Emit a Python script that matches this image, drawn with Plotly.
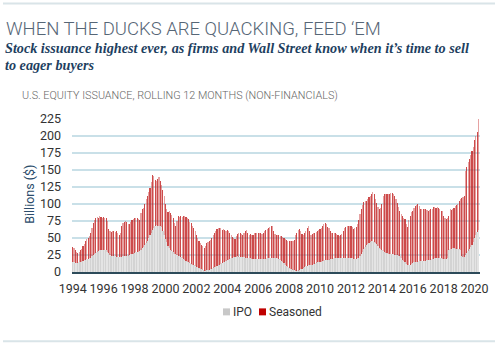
import plotly.graph_objects as go

# ---------------- data (billions $, rolling 12 months, monthly from Jan 1994) ----------------
start_year = 1994
ipo = [
    14, 14, 13, 13, 13, 14, 14, 15, 16, 17, 18, 19,   # 1994
    19, 20, 21, 23, 25, 26, 28, 29, 31, 32, 33, 33,   # 1995
    33, 33, 32, 30, 28, 25, 24, 23, 23, 23, 22, 22,   # 1996
    22, 22, 22, 23, 23, 23, 24, 24, 25, 26, 26, 27,   # 1997
    28, 29, 29, 30, 31, 33, 35, 37, 40, 43, 46, 50,   # 1998
    54, 58, 62, 65, 68, 69, 68, 68, 68, 66, 60, 54,   # 1999
    48, 44, 38, 35, 32, 31, 29, 27, 26, 25, 24, 23,   # 2000
    22, 21, 19, 17, 16, 15, 14, 13, 12, 11, 10, 9,    # 2001
    8, 7, 6, 5, 4, 3, 2, 2, 3, 3, 3, 4,               # 2002
    5, 6, 7, 8, 9, 10, 11, 12, 13, 14, 15, 16,        # 2003
    17, 18, 19, 20, 21, 22, 22, 22, 23, 22, 22, 22,   # 2004
    22, 22, 21, 21, 20, 20, 20, 19, 19, 19, 19, 19,   # 2005
    19, 19, 19, 19, 19, 19, 19, 20, 20, 21, 21, 21,   # 2006
    21, 21, 20, 20, 19, 18, 16, 15, 13, 11, 9, 8,     # 2007
    6, 5, 4, 3, 3, 2, 2, 2, 3, 4, 5, 6,               # 2008
    8, 9, 9, 10, 10, 11, 11, 12, 12, 13, 14, 14,      # 2009
    15, 15, 16, 16, 17, 17, 18, 18, 19, 19, 19, 20,   # 2010
    20, 21, 21, 21, 21, 21, 21, 21, 21, 21, 21, 21,   # 2011
    21, 20, 19, 19, 19, 20, 21, 23, 26, 30, 34, 37,   # 2012
    39, 41, 43, 44, 45, 45, 44, 42, 41, 38, 36, 34,   # 2013
    33, 31, 30, 28, 28, 27, 26, 26, 26, 26, 25, 25,   # 2014
    25, 24, 23, 21, 18, 16, 14, 12, 11, 11, 11, 12,   # 2015
    13, 14, 14, 15, 15, 16, 16, 16, 16, 16, 16, 17,   # 2016
    17, 18, 18, 19, 19, 20, 20, 21, 21, 20, 20, 19,   # 2017
    19, 19, 19, 20, 33, 34, 34, 35, 35, 34, 34, 34,   # 2018
    34, 33, 24, 22, 22, 25, 28, 31, 34, 37, 40, 44,   # 2019
    50, 55, 59, 62,                                   # 2020
]
seasoned = [
    23, 21, 19, 16, 15, 16, 18, 19, 22, 24, 27, 29,   # 1994
    31, 33, 37, 41, 47, 51, 52, 52, 49, 50, 48, 47,   # 1995
    48, 47, 47, 45, 35, 35, 35, 37, 38, 36, 38, 36,   # 1996
    33, 36, 46, 49, 51, 52, 49, 46, 46, 48, 51, 51,   # 1997
    51, 51, 51, 48, 46, 54, 57, 57, 60, 65, 66, 68,   # 1998
    70, 74, 81, 76, 67, 65, 69, 71, 66, 62, 60, 58,   # 1999
    52, 48, 50, 55, 55, 53, 51, 45, 42, 50, 58, 58,   # 2000
    60, 60, 63, 66, 65, 65, 64, 61, 60, 57, 54, 51,   # 2001
    47, 43, 40, 38, 36, 35, 33, 36, 39, 41, 42, 43,   # 2002
    45, 48, 51, 52, 54, 54, 54, 52, 49, 49, 47, 45,   # 2003
    45, 42, 38, 35, 31, 28, 27, 31, 33, 35, 36, 34,   # 2004
    33, 35, 40, 41, 38, 35, 36, 36, 36, 38, 39, 38,   # 2005
    38, 39, 38, 37, 39, 41, 43, 43, 44, 45, 47, 46,   # 2006
    39, 35, 35, 34, 35, 35, 37, 37, 37, 38, 38, 38,   # 2007
    40, 40, 42, 43, 44, 53, 56, 60, 60, 56, 51, 49,   # 2008
    49, 51, 55, 58, 50, 44, 45, 45, 46, 46, 46, 48,   # 2009
    48, 50, 52, 54, 55, 53, 48, 46, 41, 39, 39, 38,   # 2010
    38, 35, 33, 32, 34, 35, 39, 43, 45, 47, 47, 46,   # 2011
    47, 46, 44, 45, 47, 50, 55, 62, 66, 68, 69, 67,   # 2012
    66, 66, 67, 68, 69, 72, 71, 66, 61, 57, 56, 60,   # 2013
    67, 81, 84, 87, 86, 87, 89, 90, 90, 88, 87, 83,   # 2014
    76, 72, 67, 64, 64, 64, 64, 58, 55, 65, 71, 76,   # 2015
    77, 80, 83, 84, 85, 81, 77, 76, 76, 77, 76, 74,   # 2016
    73, 73, 74, 74, 76, 75, 74, 74, 73, 72, 70, 70,   # 2017
    63, 61, 59, 60, 49, 58, 57, 57, 59, 63, 65, 66,   # 2018
    71, 75, 85, 88, 90, 123, 127, 131, 132, 135, 138, 140,  # 2019
    144, 145, 147, 163,                               # 2020
]
series_names = ["IPO", "Seasoned"]
x_tick_vals = [1994, 1996, 1998, 2000, 2002, 2004, 2006, 2008, 2010, 2012, 2014, 2016, 2018, 2020]
x_tick_text = ["1994", "1996", "1998", "2000", "2002", "2004", "2006", "2008",
               "2010", "2012", "2014", "2016", "2018", "2020"]
y_tick_vals = [0, 25, 50, 75, 100, 125, 150, 175, 200, 225]

months = [start_year + i / 12 for i in range(len(ipo))]

# ---------------- geometry helpers ----------------
W, H = 500, 346
L, R, T, B = 72, 20, 119, 73.5
PW, PH = W - L - R, H - T - B


def px(xp):
    return (xp - L) / PW


def py(yp):
    return (H - B - yp) / PH


FONT = "Roboto"
RED = "#c00000"
GREY = "#c8c8c8"
# alternating shades give the striped look of the thin monthly bars
red_fill = ["rgba(192,30,30,0.80)" if i % 2 == 0 else "rgba(205,70,70,0.50)" for i in range(len(months))]
grey_fill = ["#d3d3d3" if i % 2 == 0 else "#e4e4e4" for i in range(len(months))]

fig = go.Figure()
fig.add_trace(go.Bar(x=months, y=ipo, name=series_names[0], showlegend=False,
                     marker=dict(color=grey_fill, line=dict(width=0))))
fig.add_trace(go.Bar(x=months, y=seasoned, name=series_names[1], showlegend=False,
                     marker=dict(color=red_fill, line=dict(width=0))))

fig.update_layout(
    width=W, height=H,
    margin=dict(l=L, r=R, t=T, b=B, pad=0),
    paper_bgcolor="white", plot_bgcolor="white",
    barmode="stack", bargap=0.12,
    font=dict(family=FONT, color="#333333", size=12),
    showlegend=False,
    xaxis=dict(range=[start_year - 0.045, 2020.35], tickvals=x_tick_vals, ticktext=x_tick_text,
               showgrid=False, zeroline=False, showline=True, linecolor="#2d4b5a", linewidth=2,
               ticks="", tickfont=dict(family=FONT, size=12.5, color="#333333"), ticklabelstandoff=4),
    yaxis=dict(range=[0, 225], tickvals=y_tick_vals, showgrid=True, gridcolor="#c9e0e8", gridwidth=1.5,
               zeroline=False, showline=False, ticks="", ticklabelstandoff=10,
               tickfont=dict(family=FONT, size=12.5, color="#333333")),
)

annotations = [
    dict(text="WHEN THE DUCKS ARE QUACKING, FEED \u2018EM", x=px(4), y=py(29), xanchor="left", yanchor="middle",
         font=dict(family=FONT, size=18.5, color="#566676", weight=300), showarrow=False),
    dict(text="<b><i>Stock issuance highest ever, as firms and Wall Street know when it\u2019s time to sell</i></b>",
         x=px(3), y=py(48), xanchor="left", yanchor="middle",
         font=dict(family="Liberation Serif", size=14.2, color="#1e3f5f"), showarrow=False),
    dict(text="<b><i>to eager buyers</i></b>", x=px(3), y=py(65), xanchor="left", yanchor="middle",
         font=dict(family="Liberation Serif", size=14.2, color="#1e3f5f"), showarrow=False),
    dict(text="U.S. EQUITY ISSUANCE, ROLLING 12 MONTHS (NON-FINANCIALS)", x=px(20), y=py(95),
         xanchor="left", yanchor="middle",
         font=dict(family=FONT, size=10.8, color="#666666", weight=300), showarrow=False),
    dict(text="Billions ($)", x=px(30), y=py(195), xanchor="center", yanchor="middle", textangle=-90,
         font=dict(family=FONT, size=12.5, color="#2b4c6b"), showarrow=False),
    # legend labels
    dict(text=series_names[0], x=px(231), y=py(312.5), xanchor="left", yanchor="middle",
         font=dict(family=FONT, size=12, color="#333333"), showarrow=False),
    dict(text=series_names[1], x=px(267), y=py(312.5), xanchor="left", yanchor="middle",
         font=dict(family=FONT, size=12, color="#333333"), showarrow=False),
]
for a in annotations:
    a["xref"] = "paper"
    a["yref"] = "paper"
fig.update_layout(annotations=annotations)

fig.update_layout(shapes=[
    dict(type="line", xref="paper", yref="paper", x0=px(3), x1=px(495), y0=py(3), y1=py(3),
         line=dict(color="#d9e4e8", width=2)),
    dict(type="line", xref="paper", yref="paper", x0=px(3), x1=px(495), y0=py(342), y1=py(342),
         line=dict(color="#d9e4e8", width=2)),
    # legend swatches
    dict(type="rect", xref="paper", yref="paper", x0=px(223), x1=px(230), y0=py(309), y1=py(316),
         fillcolor=GREY, line=dict(width=0)),
    dict(type="rect", xref="paper", yref="paper", x0=px(259), x1=px(266), y0=py(309), y1=py(316),
         fillcolor=RED, line=dict(width=0)),
])

fig.write_html("out.html")
